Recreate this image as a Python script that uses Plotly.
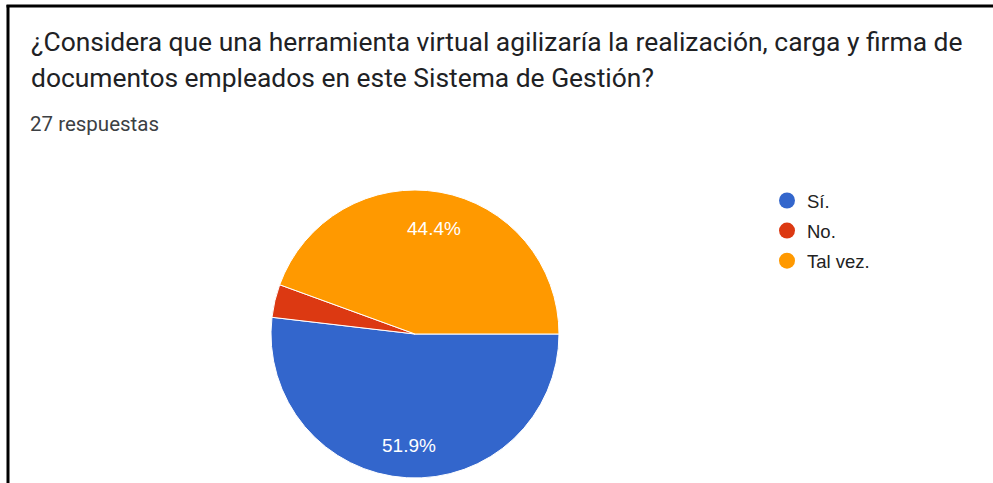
import math
import plotly.graph_objects as go

W, H = 993, 483

title_lines = [
    "¿Considera que una herramienta virtual agilizaría la realización, carga y firma de",
    "documentos empleados en este Sistema de Gestión?",
]
subtitle = "27 respuestas"
categories = ["Sí.", "No.", "Tal vez."]
counts = [14, 1, 12]
colors = ["#3366cc", "#dc3912", "#ff9900"]
show_label = [True, False, True]

def px_x(x):
    return x / W

def px_y(y):
    return 1 - y / H

# pie geometry (pixels)
CX, CY, R = 415, 334, 144
START_DEG = 0  # 3 o'clock, going clockwise

fig = go.Figure()

fig.add_trace(go.Pie(
    labels=categories,
    values=counts,
    marker=dict(colors=colors, line=dict(color="white", width=1)),
    sort=False,
    direction="clockwise",
    rotation=90,
    textinfo="none",
    showlegend=False,
    hoverinfo="label+value+percent",
    domain=dict(x=[px_x(CX - R), px_x(CX + R)], y=[px_y(CY + R), px_y(CY - R)]),
))

for i, (cat, col) in enumerate(zip(categories, colors)):
    fig.add_trace(go.Scatter(
        x=[None], y=[None], mode="markers", name=cat,
        marker=dict(symbol="circle", size=16, color=col),
        legendgroup=f"g{i}", showlegend=True,
    ))

annotations = [
    dict(text=title_lines[0], x=px_x(29), y=px_y(42)),
    dict(text=title_lines[1], x=px_x(29), y=px_y(78)),
]
for a in annotations:
    a.update(xref="paper", yref="paper", xanchor="left", yanchor="middle",
             showarrow=False,
             font=dict(family="Roboto", size=26.4, color="#202124"))
annotations.append(dict(
    text=subtitle, x=px_x(27.5), y=px_y(124), xref="paper", yref="paper",
    xanchor="left", yanchor="middle", showarrow=False,
    font=dict(family="Roboto", size=20.5, color="#3c4043"),
))

# percentage labels placed at slice mid-angles
total = sum(counts)
acc = 0
for v, show in zip(counts, show_label):
    mid = START_DEG + (acc + v / 2) / total * 360
    acc += v
    if not show:
        continue
    rad = math.radians(mid)
    lx = CX + 0.76 * R * math.cos(rad)
    ly = CY + 0.76 * R * math.sin(rad) + 2
    annotations.append(dict(
        text=f"{v / total * 100:.1f}%", x=px_x(lx), y=px_y(ly),
        xref="paper", yref="paper", xanchor="center", yanchor="middle",
        showarrow=False,
        font=dict(family="Arial, Liberation Sans", size=19, color="white"),
    ))

shapes = [
    dict(type="line", xref="paper", yref="paper",
         x0=px_x(8), x1=px_x(8), y0=0, y1=px_y(5),
         line=dict(color="black", width=3)),
    dict(type="line", xref="paper", yref="paper",
         x0=px_x(6.5), x1=1, y0=px_y(6), y1=px_y(6),
         line=dict(color="black", width=3)),
]

fig.update_layout(
    width=W, height=H,
    margin=dict(l=0, r=0, t=0, b=0),
    paper_bgcolor="white", plot_bgcolor="white",
    xaxis=dict(visible=False), yaxis=dict(visible=False),
    annotations=annotations,
    shapes=shapes,
    legend=dict(
        x=px_x(767), y=px_y(182), xanchor="left", yanchor="top",
        font=dict(family="Arial, Liberation Sans", size=18.5, color="#222222"),
        tracegroupgap=3, bgcolor="rgba(0,0,0,0)",
    ),
)

fig.write_html("out.html", post_script="document.body.style.margin='0';",
               config={"displayModeBar": False})
